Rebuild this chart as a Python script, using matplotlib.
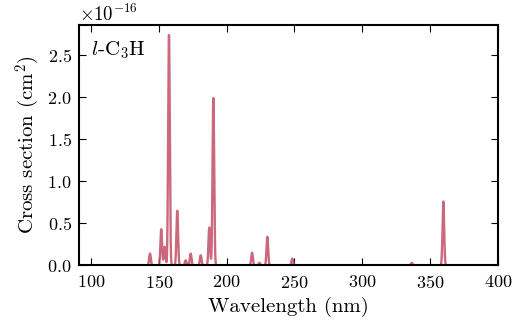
import numpy as np
import matplotlib
matplotlib.use("Agg")
import matplotlib.pyplot as plt

plt.rcParams.update({
    "font.family": "serif",
    "font.serif": ["cmr10"],
    "mathtext.fontset": "cm",
    "axes.formatter.use_mathtext": True,
    "axes.unicode_minus": False,
})

# Absorption line list for l-C3H: centre wavelength (nm) and peak cross section (1e-16 cm^2)
line_centres = [143.5, 151.8, 154.3, 157.5, 163.6, 169.8, 173.5, 180.9, 187.2, 190.2,
                218.7, 224.1, 230.0, 248.4, 336.4, 359.7]
line_peaks = [0.14, 0.43, 0.22, 2.74, 0.65, 0.06, 0.14, 0.12, 0.45, 1.99,
              0.15, 0.03, 0.34, 0.08, 0.03, 0.76]
line_width = 0.6  # Gaussian sigma in nm

wavelength = np.linspace(91, 400, 6000)
cross_section = np.zeros_like(wavelength)
for c, h in zip(line_centres, line_peaks):
    cross_section += h * 1e-16 * np.exp(-0.5 * ((wavelength - c) / line_width) ** 2)

fig = plt.figure(figsize=(5.25, 3.24), dpi=100)
ax = fig.add_axes([0.150, 0.181, 0.7986, 0.742])

ax.plot(wavelength, cross_section, color="#c44e66", lw=1.7, alpha=0.85)

ax.set_xlim(91, 400)
ax.set_ylim(0, 2.86e-16)
ax.set_xticks([100, 150, 200, 250, 300, 350, 400])
ax.set_yticks(np.array([0.0, 0.5, 1.0, 1.5, 2.0, 2.5]) * 1e-16)

ax.tick_params(direction="in", top=True, right=True, length=5, width=0.8,
               labelsize=13, pad=5)
ax.tick_params(axis="x", pad=6.5)
for s in ax.spines.values():
    s.set_linewidth(1.5)
ax.yaxis.get_offset_text().set_fontsize(13.5)

ax.set_xlabel("Wavelength (nm)", fontsize=15)
ax.set_ylabel(r"Cross section (cm$^2$)", fontsize=15)

ax.text(0.03, 0.94, r"$l$-C$_3$H", transform=ax.transAxes, fontsize=15,
        ha="left", va="top")

fig.savefig("out.png", dpi=100)
